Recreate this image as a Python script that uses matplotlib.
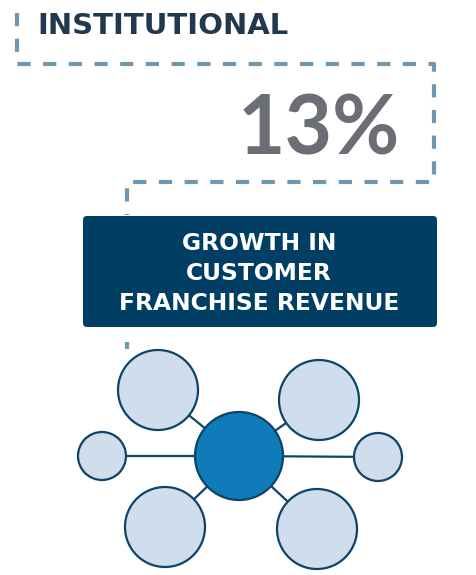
import matplotlib
matplotlib.use('Agg')
import matplotlib.pyplot as plt
from matplotlib.patches import Circle, FancyBboxPatch

# ===========================================
# text of the panel
title = 'INSTITUTIONAL'
big_value = '13%'
box_lines = ['GROWTH IN', 'CUSTOMER', 'FRANCHISE REVENUE']

# hub diagram: node 0 is the hub, the rest are spokes
node_x = [239, 158, 319, 102, 378, 165, 317]
node_y = [456, 390, 400, 456, 457, 527, 529]
node_r = [44, 40, 40, 24, 24, 40, 40]

# dashed frame path (pixel coords)
frame_x = [17, 17, 434, 434, 127, 127]
frame_y = [13, 64, 64, 182, 182, 215]

navy = '#22384f'
grey = '#6b6e75'
box_blue = '#003f63'
dash_blue = '#7096b0'
hub_blue = '#0f7bb8'
edge_blue = '#0d4468'
light = '#d0ddec'

plt.rcParams['lines.scale_dashes'] = False
plt.rcParams['font.family'] = ['DejaVu Sans']

fig = plt.figure(figsize=(4.76, 5.75), dpi=100)
ax = fig.add_axes([0, 0, 1, 1])
ax.set_xlim(0, 476)
ax.set_ylim(575, 0)
ax.set_aspect('equal')
ax.axis('off')

# dashed frame
ax.plot(frame_x, frame_y, color=dash_blue, lw=3, dashes=(9.5, 9),
        solid_capstyle='butt', dash_capstyle='butt')
ax.plot([127, 127], [342, 349], color=dash_blue, lw=3, solid_capstyle='butt')

ax.text(37, 26, title, fontsize=21, fontweight='bold', color=navy,
        ha='left', va='center')
ax.text(400, 131, big_value, fontsize=59, fontweight='bold', color=grey,
        ha='right', va='center', family=['Lato', 'DejaVu Sans'])

box = FancyBboxPatch((83, 216), 354, 111, boxstyle='round,pad=0,rounding_size=4',
                     fc=box_blue, ec='none')
ax.add_patch(box)
for i, line in enumerate(box_lines):
    ax.text(259, 243 + i * 30, line, fontsize=16.8, fontweight='bold',
            color='white', ha='center', va='center')

# spokes then nodes
for x, y in zip(node_x[1:], node_y[1:]):
    ax.plot([node_x[0], x], [node_y[0], y], color=edge_blue, lw=1.6, zorder=1)
for i, (x, y, r) in enumerate(zip(node_x, node_y, node_r)):
    fc = hub_blue if i == 0 else light
    ax.add_patch(Circle((x, y), r, fc=fc, ec=edge_blue, lw=1.6, zorder=2))

fig.savefig('out.png', dpi=100)
